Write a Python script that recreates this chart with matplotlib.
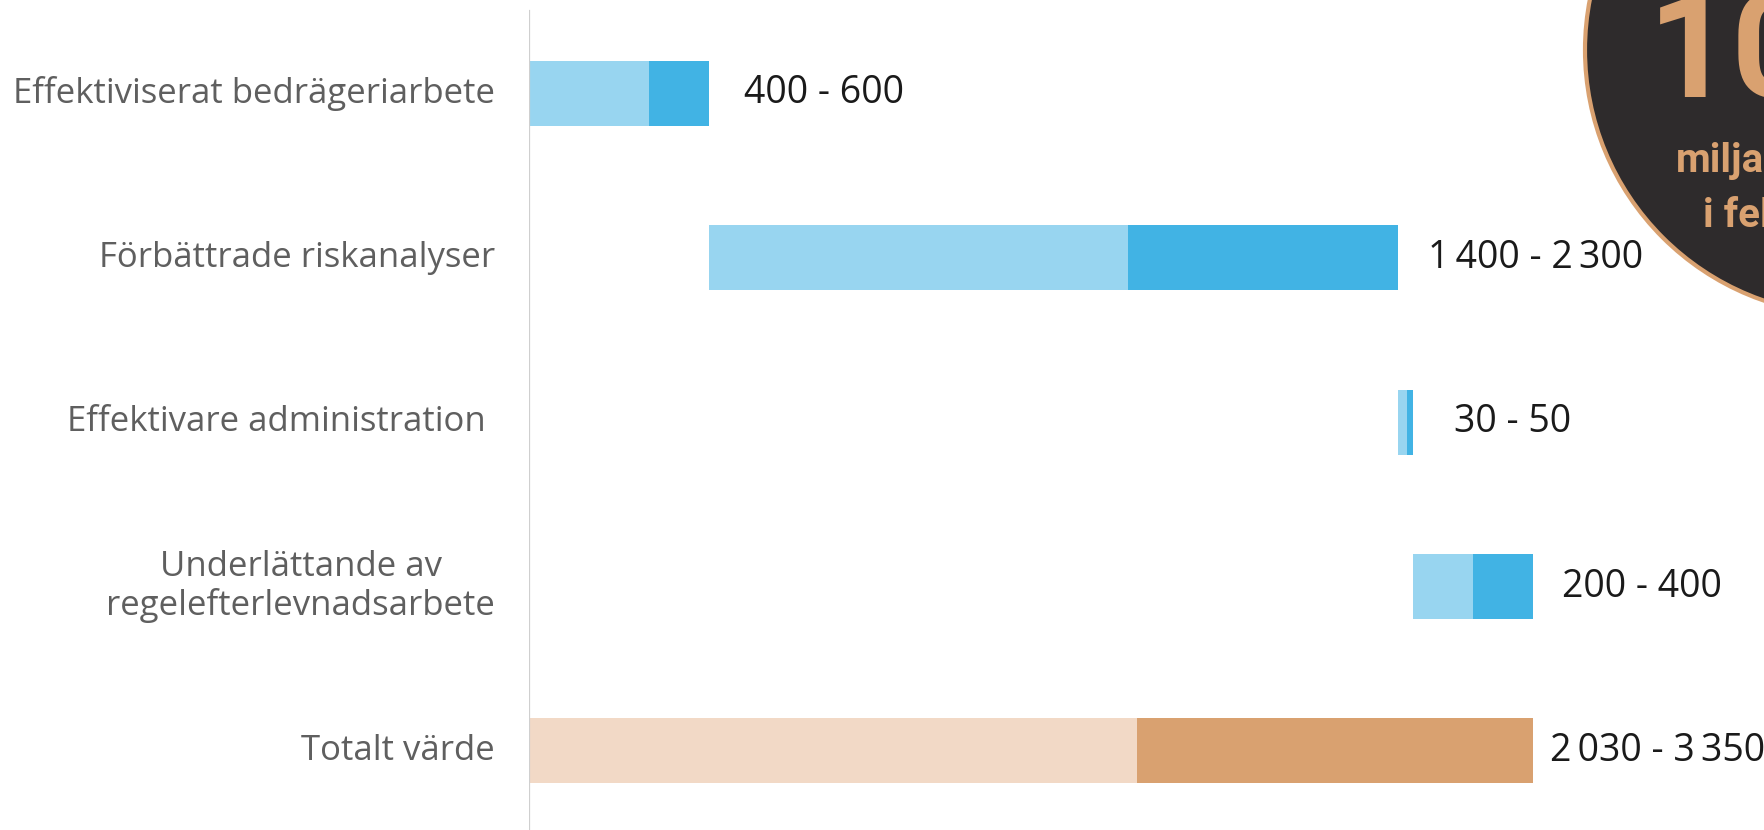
import matplotlib
matplotlib.use("Agg")
import matplotlib.pyplot as plt
from matplotlib.patches import Circle

# ---- data ----
categories = ["Effektiviserat bedrägeriarbete", "Förbättrade riskanalyser",
              "Effektivare administration ", "Underlättande av\nregelefterlevnadsarbete",
              "Totalt värde"]
low_values = [400, 1400, 30, 200, 2030]
high_values = [600, 2300, 50, 400, 3350]
starts = [0, 600, 2900, 2950, 0]
value_labels = ["400 - 600", "1\u2009400 - 2\u2009300", "30 - 50", "200 - 400",
                "2\u2009030 - 3\u2009350"]
badge_texts = ["10", "miljarder", "i felaktiga"]

# ---- style ----
W, H = 1765, 830
light = ["#98d5f0", "#98d5f0", "#98d5f0", "#98d5f0", "#f2d9c6"]
dark = ["#41b3e4", "#41b3e4", "#41b3e4", "#41b3e4", "#d9a170"]
label_gap_px = [35, 30, 41, 29, 17]
font = ["Open Sans", "DejaVu Sans"]
badge_font = ["Roboto", "DejaVu Sans"]

fig = plt.figure(figsize=(W / 100, H / 100), dpi=100)
x0_px, x_end_px = 529, 1533
ax = fig.add_axes([x0_px / W, 0, 1 - x0_px / W, 1])
px_per_unit = (x_end_px - x0_px) / high_values[-1]
ax.set_xlim(0, (W - x0_px) / px_per_unit)
row0_px, row_step_px = 93.4, 164.4
ax.set_ylim((H - row0_px) / row_step_px, -row0_px / row_step_px)
bar_h = 65 / row_step_px

ypos = list(range(len(categories)))
for i in ypos:
    ax.barh(i, low_values[i], left=starts[i], height=bar_h, color=light[i], linewidth=0)
    ax.barh(i, high_values[i] - low_values[i], left=starts[i] + low_values[i],
            height=bar_h, color=dark[i], linewidth=0)
    end = starts[i] + high_values[i]
    ax.text(end + label_gap_px[i] / px_per_unit, i, value_labels[i], va="center", ha="left",
            fontsize=27, color="#1a1a1a", family=font)
    ax.text(-34 / px_per_unit, i, categories[i], va="center", ha="right",
            multialignment="center", fontsize=25, color="#5f5f5f", family=font,
            linespacing=1.12, clip_on=False)

ax.axvline(0, ymin=0, ymax=1 - 11 / H, color="#cfcfcf", linewidth=1.6)
for s in ax.spines.values():
    s.set_visible(False)
ax.set_xticks([])
ax.set_yticks([])

# badge overlay
ov = fig.add_axes([0, 0, 1, 1], zorder=5)
ov.set_xlim(0, W)
ov.set_ylim(H, 0)
ov.axis("off")
ov.patch.set_alpha(0)
ov.add_patch(Circle((1850, 50), 265, facecolor="#2e2b2c", edgecolor="#d9a170", linewidth=3))
ov.text(1648, 97, badge_texts[0], ha="left", va="baseline", fontsize=106,
        fontweight="bold", color="#d9a170", family=badge_font)
ov.text(1676, 172, badge_texts[1], ha="left", va="baseline", fontsize=29,
        fontweight="bold", color="#d9a170", family=badge_font)
ov.text(1703, 227, badge_texts[2], ha="left", va="baseline", fontsize=29,
        fontweight="bold", color="#d9a170", family=badge_font)

fig.savefig("out.png", dpi=100)
